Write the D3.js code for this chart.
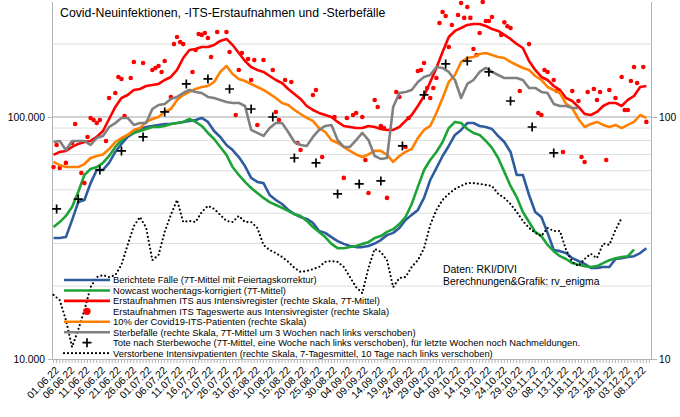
<!DOCTYPE html>
<html><head><meta charset="utf-8">
<script src="https://cdn.jsdelivr.net/npm/d3@7"></script>
<style>body{margin:0;background:#fff}svg{display:block}text{font-family:'Liberation Sans',Arial,sans-serif;fill:#000}</style>
</head><body><svg id="c" width="680" height="417"></svg>
<script>
// ---------- DATA ----------
// daily categories 01.06.22 .. 11.12.22
const dates = d3.timeDay.range(new Date(2022,5,1), new Date(2022,11,12)).map(d3.timeFormat("%d.%m.%y"));
// line series are read every second day starting 01.06.22
const lineDates = dates.filter((d,i)=>i%2===0);
const tickLabels = ["01.06.22","06.06.22","11.06.22","16.06.22","21.06.22","26.06.22","01.07.22","06.07.22","11.07.22","16.07.22","21.07.22","26.07.22","31.07.22","05.08.22","10.08.22","15.08.22","20.08.22","25.08.22","30.08.22","04.09.22","09.09.22","14.09.22","19.09.22","24.09.22","29.09.22","04.10.22","09.10.22","14.10.22","19.10.22","24.10.22","29.10.22","03.11.22","08.11.22","13.11.22","18.11.22","23.11.22","28.11.22","03.12.22","08.12.22"];

// left axis (cases)
const reported = [31600,31600,31900,37500,44500,45400,53300,60400,60400,64600,
71700,77400,82700,85900,89200,90900,91800,92700,93600,93600,
94400,95400,96300,97200,99100,95400,87500,82700,76600,73000,
68300,62700,56000,53900,53300,47600,45400,43700,41300,39700,
38600,37900,36500,33800,33200,31900,30700,29900,29300,29000,
29000,29300,30000,31000,32500,33200,34800,37500,39400,41300,
46300,54900,61500,69000,75900,84300,88400,94400,94400,91800,
90900,89200,83400,78800,71700,57600,57600,47600,40500,38600,
33200,28200,27900,27400,26100,25400,24700,23800,23800,24000,
24000,25900,26100,26400,26600,27400,28700];
const nowcast = [35100,36800,39000,42500,49000,57600,61000,62100,64600,69000,
75200,80300,84300,85900,87500,89200,90900,90900,91800,93600,
94400,95400,98100,95400,91800,85900,81100,75200,69700,62100,
57600,53900,50900,48500,46300,44500,43300,42100,40900,39700,
39000,37200,35100,33500,31900,29900,28700,28700,29000,29300,
29900,30400,31600,32200,33500,34400,36100,38600,43700,51400,
60400,66400,71700,78800,90000,95400,94400,89200,85900,84300,
79600,74500,67700,59300,51900,46700,40500,36800,33500,32200,
29600,27900,26600,25900,24900,24500,24200,24000,24200,24900,
25600,26100,26400,26600,28300];
// right axis
const itsAdmissions = [69.7,71.7,72.4,75.2,77.4,78.8,79.6,82.7,87.5,98.1,
110,119.8,123.3,129.3,130.5,134.3,135.6,136.9,142.2,146.3,
156.4,175.3,189.1,191,194.7,194.7,198.4,206.1,210.1,198.4,
183.9,170.3,160.9,156.4,153.5,147.7,142.2,138.2,130.5,124.5,
118.7,111,106.9,103.9,101.9,100,95.4,91.8,90.9,90,
90,91.8,90.9,89.2,88.4,88.4,90.9,96.3,101.9,111,
122.1,139.5,159.4,185.6,214.1,226.7,233.2,240,242.3,242.3,
237.7,231,226.7,218.3,210.1,200.3,192.8,170.3,156.4,146.3,
142.2,134.3,129.3,119.8,116.4,110,102.9,101.9,104.9,111,
114.3,114.3,111,117.6,122.1,133,134.3];
const itsPatients10 = [65.2,63.3,62.1,62.1,62.1,63.9,67.7,69,70,73.7,
78.8,81.9,84.3,88.4,90,95.4,98.1,100,104.9,107.9,
117.6,123.3,126.9,130.5,133,134.3,139.5,153.5,162.4,150.6,
143.6,140.8,136.9,133,129.3,124.5,119.8,114.3,112.1,106.9,
102.9,99.1,96.3,90,86.7,80.3,78.1,75.2,72.4,70,
68.3,70,72.4,72.4,69.7,65.2,69,71.7,73.7,81.9,
88.4,91.8,103.9,119.8,139.5,149.1,168.8,175.3,177,182.1,
183.9,180.4,177,175.3,168.8,164,159.4,156.4,147.7,142.2,
133,129.3,125.6,113.2,108.9,98.1,90.9,93.6,95.4,92.7,
90.9,92.7,90,92.7,95.4,101.9,99.1];
const deaths = [78.8,79.6,73,79.6,79.6,79.6,76.6,81.9,83.5,90.9,
94.4,99.1,99.1,92.7,94.4,94.4,107.9,112.1,113.2,118.7,
121,125.6,129.3,126.9,125.6,121,119.8,117.6,115.3,114.3,
114.3,111,88.4,85.9,83.5,90,94.4,94.4,86.7,78.8,
76.6,75.9,82.7,88.4,91.8,92.7,80.3,75.2,75.2,80.3,
85.9,80.3,69,67.1,67.7,110,125.6,126.9,129.3,139.5,
146.3,149.1,160.9,159.4,153.5,142.2,119.8,136.9,142.2,153.5,
159.4,153.5,149.1,144.9,144.9,144.9,142.2,131.8,131.8,126.9,
125.6,113.2,111,111,108.9,108.9];
const itsDeaths = [18.4,17.5,14.5,11.2,13.2,15.9,19.8,21.8,22.2,21.8,
22.2,24.5,29.6,35.4,38.6,34.8,25.6,26.9,33.5,39.4,
45.4,36.8,37.2,36.8,40.5,42.9,41.7,39.4,37.2,36.8,
39,36.8,36.8,34.8,29.6,28.2,27.4,26.4,25.2,23.8,
22.9,23.1,23.5,24,25.2,25.4,25.2,24,21.8,19.8,
18.7,23.8,28.5,27.7,25.6,19.8,21.6,21.8,24,25.6,
28.7,35.8,41.3,45.4,48.1,50.4,51.9,53.3,53.3,52.9,
52.4,51.9,48.1,46.3,43.7,40.5,37.2,34.8,33.2,32.2,
34.8,33.8,33.8,28.2,25.2,24.2,25.9,27.2,26.1,30,
29.6,34.1,38.3];
// daily ITS admissions (dots): day number since 01.06.22, value
const dotDay = [0,1,2,4,6,7,9,10,11,12,13,14,15,17,18,20,21,22,23,25,26,29,32,33,34,35,36,38,39,40,41,42,45,46,47,48,49,50,51,53,56,57,59,60,61,63,64,65,66,68,71,72,73,75,77,79,80,84,85,87,91,94,95,97,98,100,101,102,104,105,106,107,108,111,112,114,115,118,119,120,121,122,123,124,125,126,127,128,129,131,132,133,134,135,136,137,138,139,140,141,142,145,146,147,148,151,154,157,158,159,160,162,163,165,168,170,171,172,173,175,176,177,179,180,182,184,185,186,187,188,189,191,192];
const dotValue = [62.1,76.6,61.5,64.6,78.1,93.6,58.7,53.3,82.7,99.1,97.2,94.4,97.2,79.6,119.8,125.6,146.3,143.6,101,144.9,168.8,167.2,156.4,159.4,162.4,153.5,170.3,121,200,214.1,204.1,200,153.5,189.1,220.3,218.3,222.4,212.1,177,224.5,224.5,185.6,101.9,156.4,183.9,173.6,142.2,172,92.7,172,156.4,104.9,97.2,142.2,139.5,78.1,73,123.3,129.3,68.3,100,56,99.1,101.9,103.9,100,66.4,48.5,117.6,110,91.8,90,46.3,126.9,121,75.2,99.1,154.9,156.4,167.2,131.8,119.8,131.8,144.9,244.6,271.6,261.5,194.7,240,264,295.8,256.6,284.8,256.6,191,180.4,222.4,298.7,249.3,249.3,259,218.3,246,237,233.2,128.1,200,103.9,101.9,156.4,153.5,142.2,128.1,71.7,128.1,116.4,68.3,65.2,126.9,130.5,117.6,126.9,66.4,129.3,119.8,146.3,106.9,106.9,140.8,160.9,138.2,160.9,95.4];
// deaths by week of death (crosses)
const crossDay = [1,8,15,22,29,36,43,50,57,64,71,78,85,92,99,106,113,120,127,134,141,148,155,162];
const crossValue = [41.7,45.8,60.4,72.4,82.7,104.9,136.9,143.6,130.5,107.9,100,67.7,64.6,48.1,52.9,54.4,75.9,123.3,165.6,170.3,153.5,116.4,90.9,71];

const gridValues = [20000,30000,40000,50000,60000,70000,80000,90000,100000,200000];
const legendLabels = [
 "Berichtete Fälle (7T-Mittel mit Feiertagskorrektur)",
 "Nowcast wochentags-korrigiert (7T-Mittel)",
 "Erstaufnahmen ITS aus Intensivregister (rechte Skala, 7T-Mittel)",
 "Erstaufnahmen ITS Tageswerte aus Intensivregister (rechte Skala)",
 "10% der Covid19-ITS-Patienten (rechte Skala)",
 "Sterbefälle (rechte Skala, 7T-Mittel um 3 Wochen nach links verschoben)",
 "Tote nach Sterbewoche (7T-Mittel, eine Woche nach links verschoben), für letzte Wochen noch Nachmeldungen.",
 "Verstorbene Intensivpatienten (rechte Skala, 7-Tagesmittel, 10 Tage nach links verschoben)"];

// ---------- CHART ----------
const svg = d3.select("#c");
const plotL=52, plotR=651, plotT=1.5, plotB=359;
const x = d3.scaleBand().domain(dates).range([plotL,plotR]);
const cx = d => x(d)+x.bandwidth()/2;
const yL = d3.scaleLog().domain([10000,300000]).range([plotB,plotT]);
const yR = d3.scaleLog().domain([10,300]).range([plotB,plotT]);
const de = d3.formatLocale({decimal:",",thousands:".",grouping:[3],currency:["","€"]});

const C = {blue:"#2f5b9f", green:"#1ea337", red:"#ff0000", orange:"#ff8000", gray:"#808080"};

// grid
svg.append("g").selectAll("line").data(gridValues).join("line")
  .attr("x1",plotL).attr("x2",plotR)
  .attr("y1",d=>yL(d)).attr("y2",d=>yL(d))
  .attr("stroke",d=>d===100000?"#c4c4c4":"#dedede")
  .attr("stroke-width",d=>d===100000?1.6:1);

// axes
const gx = svg.append("g").attr("transform",`translate(0,${plotB})`)
  .call(d3.axisBottom(x).tickSize(4).tickSizeOuter(0)
    .tickFormat(d=>tickLabels.includes(d)?d:""));
gx.select(".domain").attr("stroke","#b3b3b3");
gx.selectAll(".tick line").attr("stroke","#b3b3b3");
gx.selectAll(".tick text").attr("x",0).attr("y",0).attr("dy",0)
  .attr("text-anchor","end").attr("transform","translate(6,12) rotate(-45)")
  .style("font-size","10.3px").attr("fill","#000");

const gyl = svg.append("g").attr("transform",`translate(${plotL},0)`)
  .call(d3.axisLeft(yL).tickValues([10000,100000]).tickFormat(de.format(",")).tickSize(4).tickPadding(3).tickSizeOuter(0));
gyl.select(".domain").attr("stroke","#b3b3b3");
gyl.selectAll(".tick line").attr("stroke","#b3b3b3");
gyl.selectAll(".tick text").style("font-size","10.3px").attr("fill","#000");

const gyr = svg.append("g").attr("transform",`translate(${plotR},0)`)
  .call(d3.axisRight(yR).tickValues([10,100]).tickFormat(d3.format("d")).tickSize(6).tickPadding(2).tickSizeOuter(0));
gyr.select(".domain").attr("stroke","#b3b3b3");
gyr.selectAll(".tick line").attr("stroke","#b3b3b3");
gyr.selectAll(".tick text").style("font-size","10.3px").attr("fill","#000");

// series
const plot = svg.append("g");
function drawLine(vals, y, color, extra){
  const p = plot.append("path").datum(vals)
    .attr("fill","none").attr("stroke",color).attr("stroke-width",2.6)
    .attr("stroke-linejoin","round")
    .attr("d", d3.line().x((v,i)=>cx(lineDates[i])).y(v=>y(v)));
  if(extra) extra(p);
}
drawLine(reported, yL, C.blue);
drawLine(nowcast, yL, C.green);
drawLine(itsAdmissions, yR, C.red);
plot.append("g").selectAll("circle").data(dotDay).join("circle")
  .attr("cx",d=>cx(dates[d])).attr("cy",(d,i)=>yR(dotValue[i])).attr("r",2.3).attr("fill",C.red);
drawLine(itsPatients10, yR, C.orange);
drawLine(deaths, yR, C.gray);
plot.append("g").selectAll("path").data(crossDay).join("path")
  .attr("transform",(d,i)=>`translate(${cx(dates[d])},${yR(crossValue[i])})`)
  .attr("d","M-4.5,0H4.5M0,-4.5V4.5").attr("stroke","#000").attr("stroke-width",1.7);
drawLine(itsDeaths, yR, "#000", p=>p.attr("stroke-width",2.2).attr("stroke-dasharray","0,4").attr("stroke-linecap","round"));

// title + notes
svg.append("text").attr("x",60).attr("y",17).style("font-size","12.3px")
  .text("Covid-Neuinfektionen, -ITS-Erstaufnahmen und -Sterbefälle");
svg.append("text").attr("x",443).attr("y",273).style("font-size","10.4px").text("Daten: RKI/DIVI");
svg.append("text").attr("x",443).attr("y",284.5).style("font-size","10.4px").text("Berechnungen&Grafik: rv_enigma");

// legend
const lg = svg.append("g");
const rowY = i => 280 + i*10.45;
const kinds = [
 {t:"line",c:C.blue},{t:"line",c:C.green},{t:"line",c:C.red},{t:"dot",c:C.red},
 {t:"line",c:C.orange},{t:"line",c:C.gray},{t:"cross",c:"#000"},{t:"dots",c:"#000"}];
legendLabels.forEach((lab,i)=>{
  const k = kinds[i], y = rowY(i);
  if(k.t==="line") lg.append("line").attr("x1",64).attr("x2",110).attr("y1",y).attr("y2",y).attr("stroke",k.c).attr("stroke-width",2.6);
  if(k.t==="dot") lg.append("circle").attr("cx",87).attr("cy",y).attr("r",3.6).attr("fill",k.c);
  if(k.t==="cross") lg.append("path").attr("transform",`translate(87,${y})`).attr("d","M-4.5,0H4.5M0,-4.5V4.5").attr("stroke","#000").attr("stroke-width",1.7);
  if(k.t==="dots") lg.append("line").attr("x1",64).attr("x2",110).attr("y1",y).attr("y2",y).attr("stroke","#000").attr("stroke-width",2.2).attr("stroke-dasharray","0,4").attr("stroke-linecap","round");
  lg.append("text").attr("x",113).attr("y",y+3.4).style("font-size","9.4px").text(lab);
});
</script></body></html>
